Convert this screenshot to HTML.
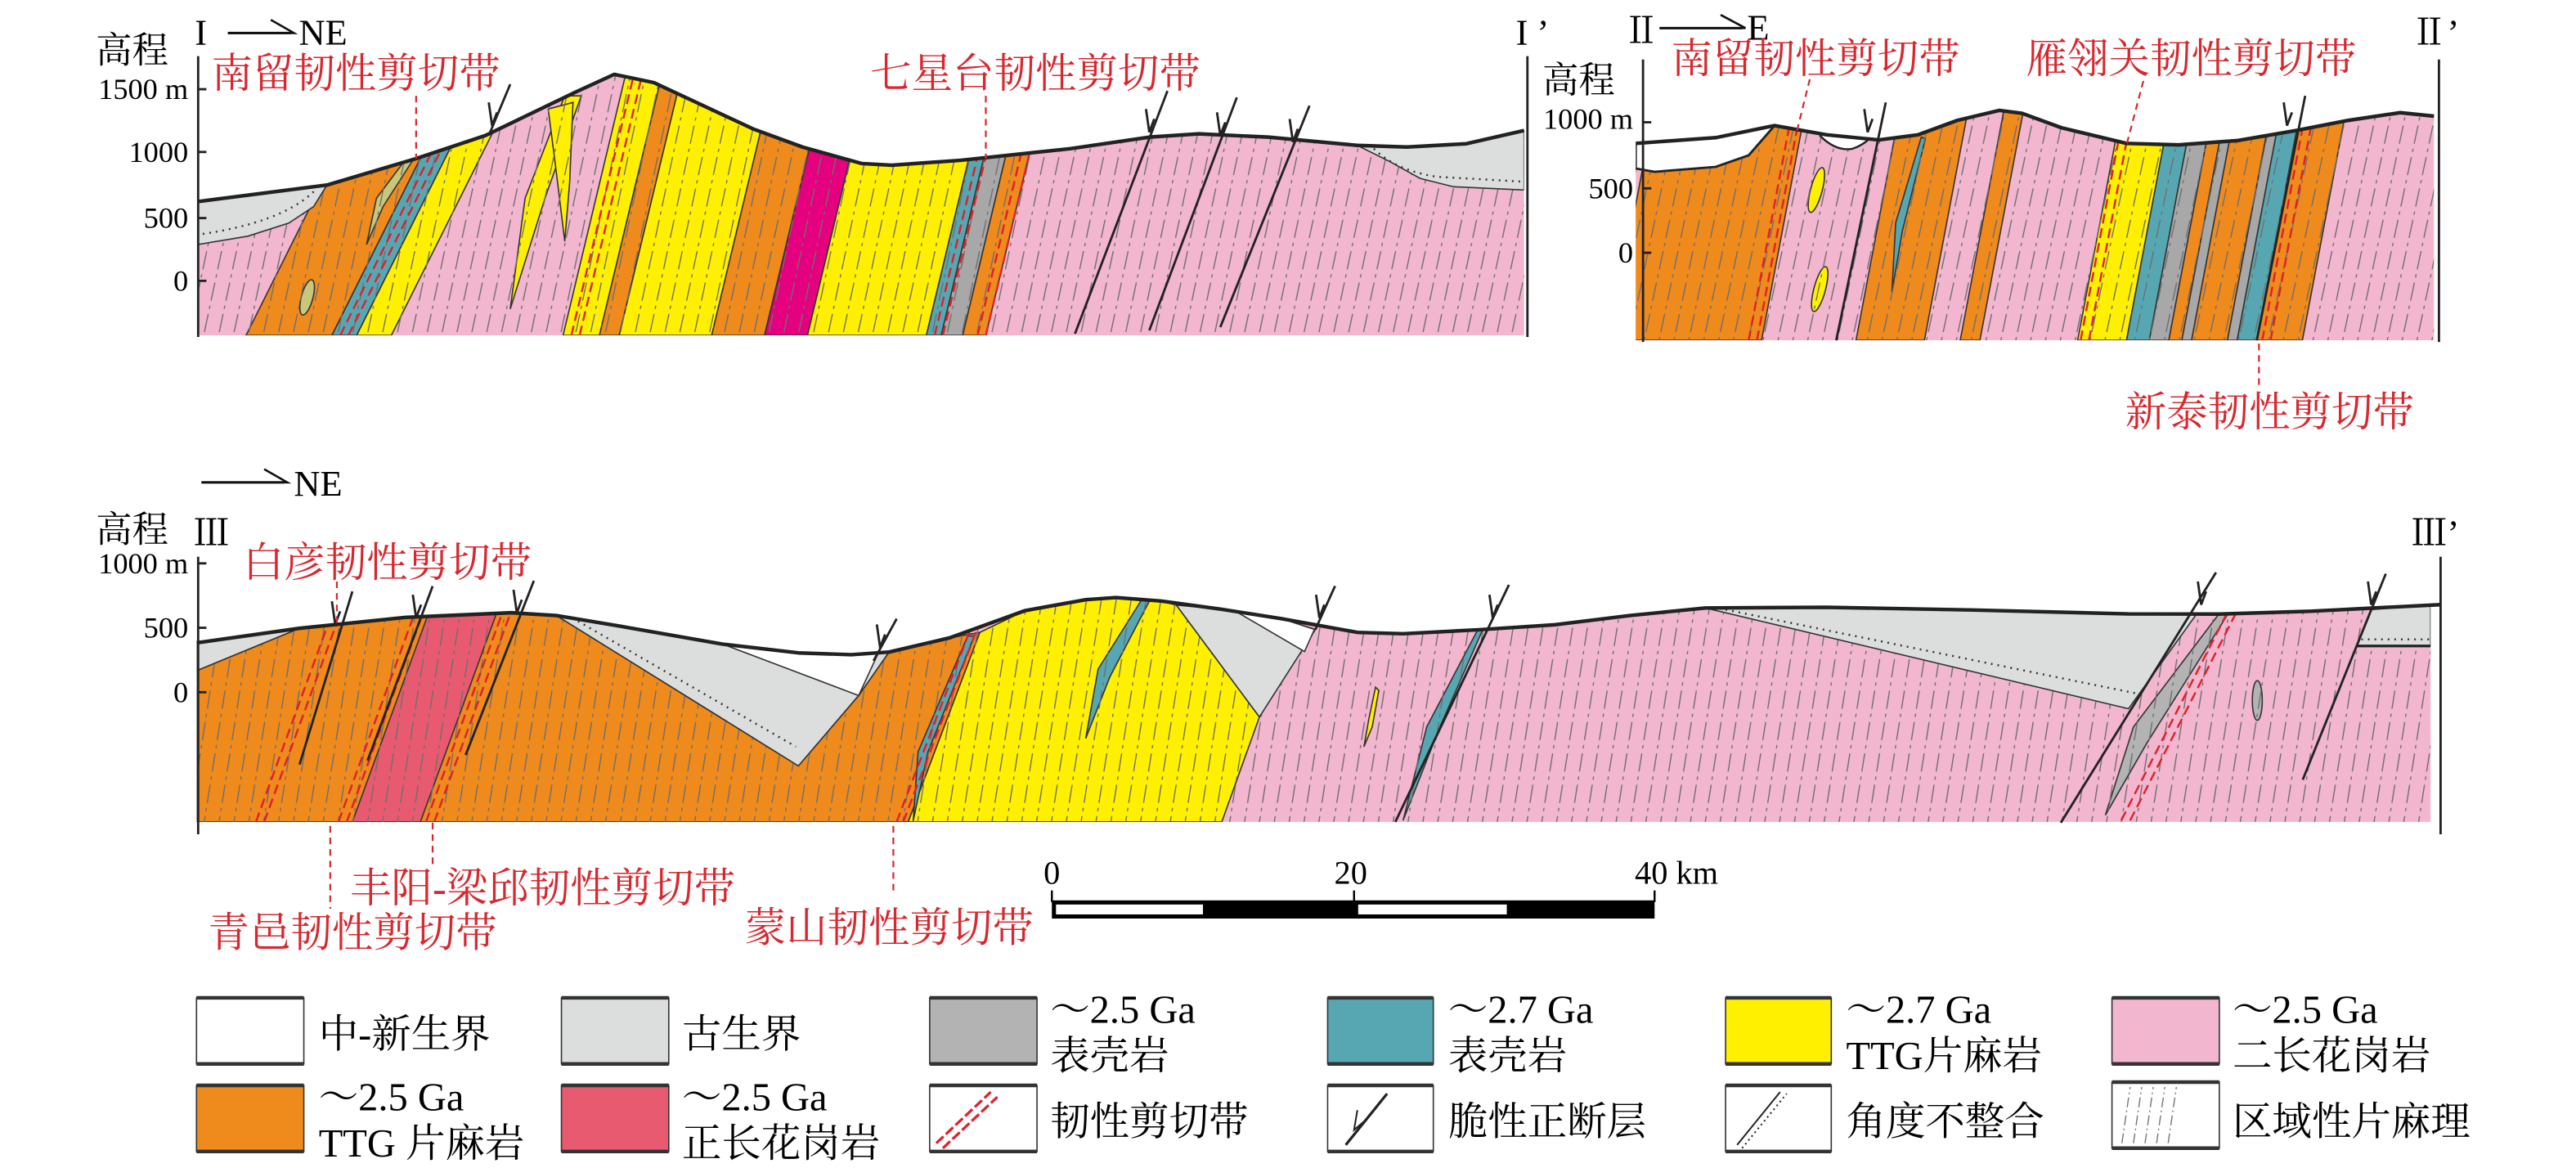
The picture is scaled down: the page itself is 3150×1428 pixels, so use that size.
<!DOCTYPE html>
<html><head><meta charset="utf-8"><style>
html,body{margin:0;padding:0;background:#fff}
svg{display:block}
text{font-family:"Liberation Serif","Noto Serif CJK SC",serif}
.r{fill:#d7282f}
</style></head><body>
<svg width="3150" height="1428" viewBox="0 0 1560 707" preserveAspectRatio="none" xmlns="http://www.w3.org/2000/svg">
<defs>
<pattern id="fol" width="9" height="19" patternUnits="userSpaceOnUse" patternTransform="skewX(-12)">
<line x1="4.5" y1="0" x2="4.5" y2="19" stroke="#6e6e6e" stroke-width="0.7" stroke-dasharray="11 3 2 3"/>
</pattern>
<pattern id="fol3" width="9" height="19" patternUnits="userSpaceOnUse" patternTransform="skewX(-9)">
<line x1="4.5" y1="0" x2="4.5" y2="19" stroke="#6e6e6e" stroke-width="0.7" stroke-dasharray="11 3 2 3"/>
</pattern>
<clipPath id="c1"><polygon points="120,122 198,112 252,96 294,82 348,56 372,45 396,50 456,78 486,89 522,99 540,100 582,97 648,90 696,83 726,81 768,83 822,88 852,89 888,87 923,79 923,203 120,203"/></clipPath>
<clipPath id="c2"><polygon points="990.6,86.8 1039.2,83.3 1074.7,76 1106.2,81.6 1137.8,84.7 1161.5,81.6 1185.2,72.9 1210.8,66.8 1224.6,68.6 1248.3,77.3 1287.8,86.8 1319.3,87.7 1354.8,85.1 1390.4,79 1421.9,72.9 1453.5,68.2 1474,70.3 1474,206 990.6,206"/></clipPath>
<clipPath id="c3"><polygon points="119.1,389.1 181.4,380.3 245.5,373.7 309.6,370.9 337,372.6 373.7,378.7 437.7,389.9 483.5,395.2 515.6,396.3 538.4,394.7 575.1,386.1 620.8,369.6 657.5,363 675.8,361.7 703.2,363.8 739.9,368.8 776.5,374.6 822.2,382.8 849.7,383.6 895.5,381.2 941.3,378.2 987,372.6 1032.8,368 1106,367.6 1197.5,369.3 1289,371.6 1344,371.7 1399,370 1472,366 1472,497.5 119.1,497.5"/></clipPath>
</defs>

<!-- ================= SECTION I ================= -->
<g clip-path="url(#c1)" stroke="#333" stroke-width="0.8">
<rect x="100" y="20" width="840" height="200" fill="#f2b6cf" stroke="none"/>
<polygon points="149,203 201,203 287.5,30 235.5,30" fill="#ef8a1c"/>
<polygon points="201,203 216,203 302.5,30 287.5,30" fill="#57a7b3"/>
<polygon points="216,203 237,203 323.5,30 302.5,30" fill="#fff000"/>
<polygon points="341,203 363,203 404.5,30 382.5,30" fill="#fff000"/>
<polygon points="363,203 375,203 416.5,30 404.5,30" fill="#ef8a1c"/>
<polygon points="375,203 431,203 472.5,30 416.5,30" fill="#fff000"/>
<polygon points="431,203 463,203 504.5,30 472.5,30" fill="#ef8a1c"/>
<polygon points="463,203 489,203 530.5,30 504.5,30" fill="#e4007f"/>
<polygon points="489,203 561,203 602.5,30 530.5,30" fill="#fff000"/>
<polygon points="561,203 570,203 611.5,30 602.5,30" fill="#57a7b3"/>
<polygon points="570,203 583,203 624.5,30 611.5,30" fill="#a8a8a8"/>
<polygon points="583,203 597,203 638.5,30 624.5,30" fill="#ef8a1c"/>
<polygon points="342,58 352,58 330,120 309,187 318,120" fill="#fff000"/>
<polygon points="332,66 347,62 345,110 342,146 337,105" fill="#fff000"/>
<polygon points="246,96 250,97 232,125 222,148 228,120" fill="#c9c77a"/>
<ellipse cx="186" cy="180" rx="3.5" ry="11" transform="rotate(15 186 180)" fill="#c9c77a"/>
<rect x="100" y="20" width="840" height="200" fill="url(#fol)" stroke="none"/>
<g stroke="#e0202a" stroke-width="1.2" stroke-dasharray="6 3" fill="none">
<line x1="206" y1="203" x2="292.5" y2="30"/><line x1="211" y1="203" x2="297.5" y2="30"/>
<line x1="346" y1="203" x2="387.5" y2="30"/><line x1="351" y1="203" x2="392.5" y2="30"/>
<line x1="566" y1="203" x2="607.5" y2="30"/><line x1="571" y1="203" x2="612.5" y2="30"/>
<line x1="592" y1="203" x2="633.5" y2="30"/><line x1="597" y1="203" x2="638.5" y2="30"/>
</g>
<polygon points="120,122 198,112 190,125 175,135 150,143 120,148" fill="#dcdddd" stroke="#333" stroke-width="0.8"/>
<path d="M190,116 Q170,135 120,142" fill="none" stroke="#333" stroke-width="1.2" stroke-dasharray="1 3"/>
<polygon points="822,88 852,89 888,87 923,79 923,115 880,113 860,108 842,98" fill="#dcdddd" stroke="#333" stroke-width="0.8"/>
<path d="M832,90 Q845,103 870,107 L923,110" fill="none" stroke="#333" stroke-width="1.2" stroke-dasharray="1 3"/>
</g>
<polyline points="120,122 198,112 252,96 294,82 348,56 372,45 396,50 456,78 486,89 522,99 540,100 582,97 648,90 696,83 726,81 768,83 822,88 852,89 888,87 923,79" fill="none" stroke="#222" stroke-width="2.2" stroke-linejoin="round"/>
<g stroke="#222" stroke-width="1.4" fill="none">
<line x1="120" y1="34" x2="120" y2="204"/><line x1="925" y1="34" x2="925" y2="204"/>
<line x1="120" y1="54" x2="125" y2="54"/><line x1="120" y1="92" x2="125" y2="92"/><line x1="120" y1="132" x2="125" y2="132"/><line x1="120" y1="170" x2="125" y2="170"/>
<line x1="309" y1="51" x2="296" y2="82"/>
<line x1="707" y1="55" x2="651" y2="202"/><line x1="749" y1="59" x2="696" y2="200"/><line x1="793" y1="64" x2="739" y2="198"/>
<polyline points="296,62 298,76 301,68"/><polyline points="694,66 696,80 699,72"/><polyline points="737,68 739,82 742,74"/><polyline points="781,72 783,86 786,78"/>
</g>
<g font-size="18" text-anchor="end"><text x="114" y="60">1500 m</text><text x="114" y="98">1000</text><text x="114" y="138">500</text><text x="114" y="176">0</text></g>
<text x="58" y="38" font-size="22">高程</text>
<text x="118" y="27" font-size="22">I</text>
<line x1="138" y1="20" x2="176" y2="20" stroke="#111" stroke-width="1.5"/><polyline points="164,12 178,20 138,20" fill="none" stroke="#111" stroke-width="1.3"/>
<text x="181" y="27" font-size="22">NE</text>
<text x="918" y="27" font-size="22">I ’</text>
<g font-size="25"><text x="128" y="53" class="r">南留韧性剪切带</text><text x="527" y="53" class="r">七星台韧性剪切带</text></g>
<g stroke="#d7282f" stroke-width="1.1" stroke-dasharray="4 3"><line x1="252" y1="58" x2="252" y2="96"/><line x1="597" y1="58" x2="597" y2="96"/></g>

<!-- ================= SECTION II ================= -->
<g clip-path="url(#c2)" stroke="#333" stroke-width="0.8">
<rect x="980" y="30" width="510" height="190" fill="#f2b6cf" stroke="none"/>
<polygon points="975,206 1066.8,206 1098.3,40 1006.5,40" fill="#ef8a1c"/>
<polygon points="1124,206 1165.4,206 1196.9,40 1155.5,40" fill="#ef8a1c"/>
<polygon points="1187.1,206 1199,206 1230.5,40 1218.6,40" fill="#ef8a1c"/>
<polygon points="1258.2,206 1287.8,206 1319.3,40 1289.7,40" fill="#fff000"/>
<polygon points="1287.8,206 1301.6,206 1333.1,40 1319.3,40" fill="#57a7b3"/>
<polygon points="1301.6,206 1313.4,206 1344.9,40 1333.1,40" fill="#a8a8a8"/>
<polygon points="1313.4,206 1321.3,206 1352.8,40 1344.9,40" fill="#ef8a1c"/>
<polygon points="1321.3,206 1327.2,206 1358.7,40 1352.8,40" fill="#a8a8a8"/>
<polygon points="1327.2,206 1348.9,206 1380.4,40 1358.7,40" fill="#ef8a1c"/>
<polygon points="1348.9,206 1354.8,206 1386.3,40 1380.4,40" fill="#a8a8a8"/>
<polygon points="1354.8,206 1366.7,206 1398.2,40 1386.3,40" fill="#57a7b3"/>
<polygon points="1366.7,206 1394.3,206 1425.8,40 1398.2,40" fill="#ef8a1c"/>
<polygon points="1163.5,83 1166,84 1152,140 1145.7,177 1148,135" fill="#57a7b3"/>
<ellipse cx="1100" cy="115" rx="3.5" ry="14" transform="rotate(15 1100 115)" fill="#fff000"/>
<ellipse cx="1102" cy="175" rx="3.5" ry="14" transform="rotate(15 1102 175)" fill="#fff000"/>
<rect x="980" y="30" width="510" height="190" fill="url(#fol)" stroke="none"/>
<g stroke="#e0202a" stroke-width="1.2" stroke-dasharray="6 3" fill="none">
<line x1="1059" y1="206" x2="1090.5" y2="40"/><line x1="1064" y1="206" x2="1095.5" y2="40"/>
<line x1="1260" y1="206" x2="1291.5" y2="40"/><line x1="1265" y1="206" x2="1296.5" y2="40"/>
<line x1="1370" y1="206" x2="1401.5" y2="40"/><line x1="1375" y1="206" x2="1406.5" y2="40"/>
</g>
<polygon points="990.6,86.8 1039.2,83.3 1074.7,76 1059,94 1039,101 1002,104 990.6,102" fill="#fff" stroke="#222" stroke-width="1.4"/>
<path d="M1102,82 Q1112,92 1122,90 Q1128,88 1132,84" fill="#fff" stroke="#222" stroke-width="1.2"/>
</g>
<polyline points="990.6,86.8 1039.2,83.3 1074.7,76 1106.2,81.6 1137.8,84.7 1161.5,81.6 1185.2,72.9 1210.8,66.8 1224.6,68.6 1248.3,77.3 1287.8,86.8 1319.3,87.7 1354.8,85.1 1390.4,79 1421.9,72.9 1453.5,68.2 1474,70.3" fill="none" stroke="#222" stroke-width="2.2" stroke-linejoin="round"/>
<g stroke="#222" stroke-width="1.4" fill="none">
<line x1="995" y1="36" x2="995" y2="207"/><line x1="1477" y1="36" x2="1477" y2="207"/>
<line x1="995" y1="74" x2="1000" y2="74"/><line x1="995" y1="114" x2="1000" y2="114"/><line x1="995" y1="153" x2="1000" y2="153"/>
<line x1="1142" y1="62" x2="1112" y2="206"/><line x1="1396" y1="58" x2="1366.7" y2="206"/>
<polyline points="1129,66 1131,80 1134,72"/><polyline points="1383,62 1385,76 1388,68"/>
</g>
<g font-size="18" text-anchor="end"><text x="989" y="78">1000 m</text><text x="989" y="120">500</text><text x="989" y="159">0</text></g>
<text x="934" y="56" font-size="22">高程</text>
<text x="983" y="26" font-size="22">Ⅱ</text>
<line x1="1005" y1="17" x2="1055" y2="17" stroke="#111" stroke-width="1.5"/><polyline points="1042,9 1057,17 1005,17" fill="none" stroke="#111" stroke-width="1.3"/>
<text x="1058" y="24" font-size="22">E</text>
<text x="1460" y="27" font-size="22">Ⅱ’</text>
<g font-size="25"><text x="1012" y="44" class="r">南留韧性剪切带</text><text x="1227" y="44" class="r">雁翎关韧性剪切带</text><text x="1287" y="258" class="r">新泰韧性剪切带</text></g>
<g stroke="#d7282f" stroke-width="1.1" stroke-dasharray="4 3"><line x1="1096" y1="48" x2="1088" y2="80"/><line x1="1298" y1="49" x2="1288" y2="87"/><line x1="1368" y1="208" x2="1368" y2="233"/></g>

<!-- ================= SECTION III ================= -->
<g clip-path="url(#c3)" stroke="#333" stroke-width="0.8">
<rect x="110" y="340" width="1380" height="170" fill="#f2b6cf" stroke="none"/>
<polygon points="119,406 181.4,380.3 245.5,373.7 309.6,370.9 337,372.6 483.5,463.6 520,421 538.4,394.7 575.1,386.1 593.4,382.8 550,497.5 119,497.5" fill="#ef8a1c"/>
<polygon points="213.4,497.5 254.6,497.5 313,337.5 271.8,337.5" fill="#e85a70"/>
<polygon points="550,497.5 593.4,382.8 620.8,369.6 657.5,363 675.8,361.7 703.2,363.8 712.4,366.3 762.7,434 739.9,497.5" fill="#fff000"/>
<polygon points="586,385 590,385 562,455 553,497 556,455" fill="#57a7b3"/>
<polygon points="692,362 697,362 672,410 657.5,447 665,405" fill="#57a7b3"/>
<polygon points="895,381 898,381 872,440 849.7,496.6 864,440" fill="#57a7b3"/>
<polygon points="833,416 835,418 831,440 826,452 829,435" fill="#fff000"/>
<polygon points="1344,371.3 1349,372 1300,450 1275,493.4 1292,440" fill="#b3b3b3"/>
<ellipse cx="1367" cy="424" rx="3" ry="12" fill="#b3b3b3"/>
<rect x="110" y="340" width="1380" height="170" fill="url(#fol3)" stroke="none"/>
<g stroke="#e0202a" stroke-width="1.2" stroke-dasharray="6 3" fill="none">
<line x1="155" y1="497.5" x2="213.4" y2="337.5"/><line x1="160" y1="497.5" x2="218.4" y2="337.5"/>
<line x1="205" y1="497.5" x2="263.4" y2="337.5"/><line x1="210" y1="497.5" x2="268.4" y2="337.5"/>
<line x1="258" y1="497.5" x2="316.4" y2="337.5"/><line x1="263" y1="497.5" x2="321.4" y2="337.5"/>
<line x1="543" y1="497.5" x2="588" y2="380"/><line x1="547" y1="497.5" x2="592" y2="380"/>
<line x1="1284.6" y1="496.6" x2="1348.6" y2="371.3"/><line x1="1290" y1="496.6" x2="1354" y2="371.3"/>
</g>
<polygon points="119,389 181.4,380.3 119,406" fill="#dcdddd"/>
<polygon points="337,372.6 373.7,378.7 437.7,389.9 483.5,395.2 515.6,396.3 538.4,394.7 520,421 483.5,463.6" fill="#dcdddd"/>
<polygon points="437.7,389.9 483.5,395.2 515.6,396.3 532,395 520,421" fill="#fff"/>
<line x1="350" y1="376" x2="482" y2="452" stroke="#333" stroke-dasharray="1 3" stroke-width="1.2"/>
<polygon points="712.4,366.3 739.9,368.8 776.5,374.6 796.6,381 762.7,434" fill="#dcdddd"/>
<polygon points="749,370.4 776.5,374.6 796,381 790,394.4" fill="#fff"/>
<polygon points="1032.8,368 1106,367.6 1197.5,369.3 1289,371.6 1330,372 1289,429" fill="#dcdddd"/>
<line x1="1045" y1="369" x2="1295" y2="420" stroke="#333" stroke-dasharray="1 3" stroke-width="1.2"/>
<polygon points="1436,369 1472,366 1472,391 1427,391" fill="#dcdddd"/>
<line x1="1430" y1="387" x2="1472" y2="387" stroke="#333" stroke-dasharray="1 3" stroke-width="1.2"/>
<line x1="1427" y1="391" x2="1472" y2="391" stroke="#222" stroke-width="1.6"/>
</g>
<polyline points="119.1,389.1 181.4,380.3 245.5,373.7 309.6,370.9 337,372.6 373.7,378.7 437.7,389.9 483.5,395.2 515.6,396.3 538.4,394.7 575.1,386.1 620.8,369.6 657.5,363 675.8,361.7 703.2,363.8 739.9,368.8 776.5,374.6 822.2,382.8 849.7,383.6 895.5,381.2 941.3,378.2 987,372.6 1032.8,368 1106,367.6 1197.5,369.3 1289,371.6 1344,371.7 1399,370 1478,366" fill="none" stroke="#222" stroke-width="2.2" stroke-linejoin="round"/>
<g stroke="#222" stroke-width="1.4" fill="none">
<line x1="120" y1="337" x2="120" y2="505"/><line x1="1478" y1="337" x2="1478" y2="505"/>
<line x1="120" y1="341" x2="125" y2="341"/><line x1="120" y1="380" x2="125" y2="380"/><line x1="120" y1="419" x2="125" y2="419"/>
<line x1="213.4" y1="358" x2="181.4" y2="462.8"/><line x1="262" y1="354.8" x2="222.6" y2="460.4"/><line x1="323.3" y1="351.5" x2="282" y2="457"/>
<line x1="543" y1="374.6" x2="529" y2="400"/>
<line x1="808.5" y1="354.7" x2="796.6" y2="381"/>
<line x1="913.8" y1="354" x2="845" y2="497.5"/>
<line x1="1342" y1="346.5" x2="1248" y2="498"/>
<line x1="1444.8" y1="347.3" x2="1394.5" y2="472"/>
<polyline points="201,364 203,378 206,370"/><polyline points="250,360 252,374 255,366"/><polyline points="311,357 313,371 316,363"/>
<polyline points="531,378 533,392 536,384"/><polyline points="797,360 799,374 802,366"/><polyline points="902,360 904,374 907,366"/>
<polyline points="1331,352 1333,366 1336,358"/><polyline points="1434,352 1436,366 1439,358"/>
</g>
<g font-size="18" text-anchor="end"><text x="114" y="347">1000 m</text><text x="114" y="386">500</text><text x="114" y="425">0</text></g>
<text x="58" y="328" font-size="22">高程</text>
<text x="117" y="330" font-size="22">Ⅲ</text>
<line x1="122" y1="292" x2="172" y2="292" stroke="#111" stroke-width="1.5"/><polyline points="160,284 174,292 122,292" fill="none" stroke="#111" stroke-width="1.3"/>
<text x="178" y="300" font-size="22">NE</text>
<text x="1460" y="330" font-size="22">Ⅲ’</text>
<g font-size="25">
<text x="147" y="349" class="r">白彦韧性剪切带</text>
<text x="212" y="546" class="r">丰阳-梁邱韧性剪切带</text>
<text x="126" y="573" class="r">青邑韧性剪切带</text>
<text x="451" y="570" class="r">蒙山韧性剪切带</text>
</g>
<g stroke="#d7282f" stroke-width="1.1" stroke-dasharray="4 3">
<line x1="204" y1="352" x2="204" y2="380"/>
<line x1="200" y1="500" x2="200" y2="550"/><line x1="262" y1="498" x2="262" y2="525"/><line x1="541" y1="500" x2="541" y2="540"/>
</g>

<!-- scale bar -->
<g font-size="20"><text x="632" y="535">0</text><text x="808" y="535">20</text><text x="990" y="535">40 km</text></g>
<g stroke="#000" stroke-width="1.2">
<line x1="637" y1="539" x2="637" y2="546"/><line x1="820" y1="539" x2="820" y2="546"/><line x1="1002" y1="539" x2="1002" y2="546"/>
</g>
<rect x="637" y="545" width="365" height="11" fill="#000"/>
<rect x="639.5" y="547.5" width="89" height="6" fill="#fff"/>
<rect x="822.5" y="547.5" width="90" height="6" fill="#fff"/>

<!-- legend -->
<g stroke="#333" stroke-width="0.8">
<rect x="119" y="604" width="65" height="40" fill="#fff"/>
<rect x="340" y="604" width="65" height="40" fill="#dcdddd"/>
<rect x="563" y="604" width="65" height="40" fill="#b3b3b3"/>
<rect x="804" y="604" width="64" height="40" fill="#57a7b3"/>
<rect x="1045" y="604" width="64" height="40" fill="#fff000"/>
<rect x="1279" y="604" width="65" height="40" fill="#f2b6cf"/>
<rect x="119" y="657" width="65" height="40" fill="#ef8a1c"/>
<rect x="340" y="657" width="65" height="40" fill="#e85a70"/>
<rect x="563" y="657" width="65" height="40" fill="#fff"/>
<rect x="804" y="657" width="64" height="40" fill="#fff"/>
<rect x="1045" y="657" width="64" height="40" fill="#fff"/>
<rect x="1279" y="655" width="65" height="40" fill="#fff"/>
</g>
<g stroke="#333" stroke-width="2.2">
<line x1="119" y1="604" x2="184" y2="604"/><line x1="119" y1="644" x2="184" y2="644"/>
<line x1="340" y1="604" x2="405" y2="604"/><line x1="340" y1="644" x2="405" y2="644"/>
<line x1="563" y1="604" x2="628" y2="604"/><line x1="563" y1="644" x2="628" y2="644"/>
<line x1="804" y1="604" x2="868" y2="604"/><line x1="804" y1="644" x2="868" y2="644"/>
<line x1="1045" y1="604" x2="1109" y2="604"/><line x1="1045" y1="644" x2="1109" y2="644"/>
<line x1="1279" y1="604" x2="1344" y2="604"/><line x1="1279" y1="644" x2="1344" y2="644"/>
<line x1="119" y1="657" x2="184" y2="657"/><line x1="119" y1="697" x2="184" y2="697"/>
<line x1="340" y1="657" x2="405" y2="657"/><line x1="340" y1="697" x2="405" y2="697"/>
<line x1="563" y1="657" x2="628" y2="657"/><line x1="563" y1="697" x2="628" y2="697"/>
<line x1="804" y1="657" x2="868" y2="657"/><line x1="804" y1="697" x2="868" y2="697"/>
<line x1="1045" y1="657" x2="1109" y2="657"/><line x1="1045" y1="697" x2="1109" y2="697"/>
<line x1="1279" y1="655" x2="1344" y2="655"/><line x1="1279" y1="695" x2="1344" y2="695"/>
</g>
<g stroke="#e0202a" stroke-width="1.6" stroke-dasharray="6 2">
<line x1="567" y1="692" x2="600" y2="661"/><line x1="571" y1="695" x2="604" y2="664"/>
</g>
<line x1="815" y1="693" x2="840" y2="662" stroke="#222" stroke-width="1.6"/>
<polyline points="822,672 820,684 827,678" fill="none" stroke="#222" stroke-width="1"/>
<line x1="1052" y1="693" x2="1078" y2="661" stroke="#222" stroke-width="1"/>
<line x1="1055" y1="695" x2="1082" y2="662" stroke="#222" stroke-width="1" stroke-dasharray="1 2"/>
<g stroke="#777" stroke-width="0.7" stroke-dasharray="6 2 1 2">
<line x1="1285" y1="692" x2="1290" y2="658"/><line x1="1292" y1="692" x2="1297" y2="658"/><line x1="1299" y1="692" x2="1304" y2="658"/><line x1="1306" y1="692" x2="1311" y2="658"/><line x1="1313" y1="692" x2="1318" y2="658"/>
</g>
<g font-size="24">
<text x="193" y="634">中-新生界</text>
<text x="413" y="634">古生界</text>
<text x="636" y="619">～2.5 Ga</text><text x="636" y="647">表壳岩</text>
<text x="877" y="619">～2.7 Ga</text><text x="877" y="647">表壳岩</text>
<text x="1118" y="619">～2.7 Ga</text><text x="1118" y="647">TTG片麻岩</text>
<text x="1352" y="619">～2.5 Ga</text><text x="1352" y="647">二长花岗岩</text>
<text x="193" y="672">～2.5 Ga</text><text x="193" y="700">TTG 片麻岩</text>
<text x="413" y="672">～2.5 Ga</text><text x="413" y="700">正长花岗岩</text>
<text x="636" y="687">韧性剪切带</text>
<text x="877" y="687">脆性正断层</text>
<text x="1118" y="687">角度不整合</text>
<text x="1352" y="687">区域性片麻理</text>
</g>
</svg>
</body></html>
